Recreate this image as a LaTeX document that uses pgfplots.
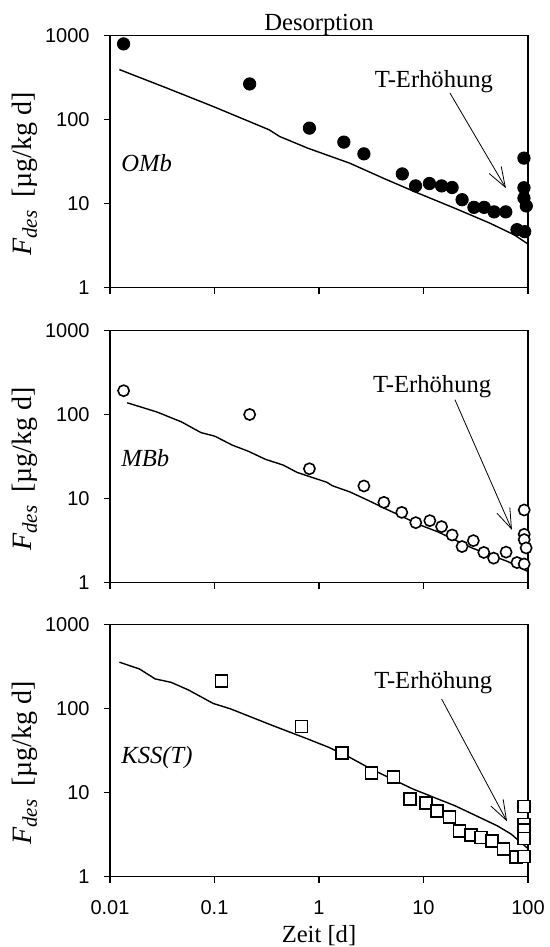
\documentclass[border=0pt]{standalone}
\usepackage{fontspec}
\setmainfont{Liberation Serif}
\newfontfamily\arialfont{Liberation Sans}
\usepackage{pgfplots}
\pgfplotsset{compat=1.18}
\usetikzlibrary{arrows.meta}

\newcommand\ylab{\textit{F}\raisebox{-0.4ex}{\fontsize{10.5}{10.5}\selectfont\textit{des}}\hspace{0.45em}[µg/kg d]}
\newcommand\tfont{\fontsize{12.3}{14}\selectfont}
\newcommand\lfont{\fontsize{14}{16}\selectfont}
\newcommand\afont{\arialfont\fontsize{10}{12}\selectfont}

\tikzset{arr/.style={-{Straight Barb[length=10pt,width=7pt]}, line width=0.4pt}}

\begin{document}
\begin{tikzpicture}
\useasboundingbox (0,0) rectangle (275pt,-473.5pt);

% ---------- Panel 1: OMb ----------
\begin{axis}[at={(55pt,-143.75pt)}, anchor=south west, clip=false,
    scale only axis, width=209pt, height=126pt,
    xmode=log, ymode=log, xmin=0.01, xmax=100, ymin=1, ymax=1000,
    xtick={0.01,0.1,1,10,100}, ytick={1,10,100,1000},
    yticklabels={1,10,100,1000}, xticklabels={},
    minor tick length=0pt,
    tick align=outside, xtick pos=bottom, ytick pos=left,
    major tick length=3.2pt,
    tick style={line width=0.8pt, black},
    axis line style={line width=0.9pt},
    tick label style={font=\afont},
    yticklabel style={xshift=-3.5pt},
    xticklabel style={yshift=-5.5pt}]
\addplot[black, line width=0.7pt, no marks] coordinates {
(0.0123,393) (0.0329,244) (0.097,143) (0.333,75.5) (0.42,62.8) (0.78,45.6)
(1.97,30.2) (4.28,19.6) (9.25,13.0) (20.0,8.77) (43.5,5.81) (74.5,4.21) (100,3.29)};
\addplot[only marks, mark=*, mark size=3.1pt, black] coordinates {
(0.0135,795) (0.217,265) (0.81,79) (1.73,53.8) (2.69,39) (6.27,22.5) (8.4,16.2)
(11.4,17.3) (14.9,16.2) (18.8,15.5) (23.4,11.1) (30.4,9.0) (38.1,9.0) (47.4,7.95)
(61.3,7.95) (78.5,4.88) (93,4.62) (91.5,34.7) (91.5,15.4) (91.5,11.6) (96.3,9.36)};
\node[font=\tfont, anchor=base, yshift=2.5pt] at (rel axis cs:0.5,1) {Desorption};
\node[font=\tfont] at (axis cs:12.6,285) {T-Erhöhung};
\draw[arr] (axis cs:17.9,207) -- (axis cs:61.5,15.2);
\node[font=\tfont\itshape, anchor=west, inner sep=1pt] at (axis cs:0.0122,30.2) {OMb};
\node[font=\lfont, rotate=90] at (axis description cs:-0.203,0.45) {\ylab};
\end{axis}

% ---------- Panel 2: MBb ----------
\begin{axis}[at={(55pt,-291.25pt)}, anchor=south west, clip=false,
    scale only axis, width=209pt, height=126pt,
    xmode=log, ymode=log, xmin=0.01, xmax=100, ymin=1, ymax=1000,
    xtick={0.01,0.1,1,10,100}, ytick={1,10,100,1000},
    yticklabels={1,10,100,1000}, xticklabels={},
    minor tick length=0pt,
    tick align=outside, xtick pos=bottom, ytick pos=left,
    major tick length=3.2pt,
    tick style={line width=0.8pt, black},
    axis line style={line width=0.9pt},
    tick label style={font=\afont},
    yticklabel style={xshift=-3.5pt},
    xticklabel style={yshift=-5.5pt}]
\addplot[black, line width=0.7pt, no marks] coordinates {
(0.0146,138) (0.0282,107) (0.0484,81.6) (0.074,61) (0.1007,55.2) (0.148,43.2)
(0.210,36.6) (0.309,29.2) (0.455,25.0) (0.62,20.4) (1.19,15.6) (1.34,14.2)
(1.97,12.0) (2.90,9.6) (4.28,7.6) (6.29,6.08) (9.25,4.84) (13.6,4.03) (20.0,3.21)
(29.5,2.56) (43.4,2.13) (63.9,1.78) (87.1,1.48) (100,1.35)};
\addplot[only marks, mark=*, mark size=2.8pt, mark options={fill=white, draw=black, line width=0.8pt}] coordinates {
(0.0135,192) (0.217,100) (0.81,22.6) (2.69,14.1) (4.18,9.0) (6.2,6.84) (8.44,5.16)
(11.5,5.45) (14.9,4.63) (18.8,3.68) (23.4,2.68) (30.0,3.15) (37.8,2.28) (46.9,1.95)
(61.7,2.30) (78.5,1.73) (92,1.66) (92,7.3) (92,3.75) (92,3.24) (96,2.58)};
\node[font=\tfont] at (axis cs:12.1,212) {T-Erhöhung};
\draw[arr] (axis cs:20.0,150) -- (axis cs:70.2,4.23);
\node[font=\tfont\itshape, anchor=west, inner sep=1pt] at (axis cs:0.0122,29.9) {MBb};
\node[font=\lfont, rotate=90] at (axis description cs:-0.203,0.45) {\ylab};
\end{axis}

% ---------- Panel 3: KSS(T) ----------
\begin{axis}[at={(55pt,-438.25pt)}, anchor=south west, clip=false,
    scale only axis, width=209pt, height=126pt,
    xmode=log, ymode=log, xmin=0.01, xmax=100, ymin=1, ymax=1000,
    xtick={0.01,0.1,1,10,100}, ytick={1,10,100,1000},
    yticklabels={1,10,100,1000}, xticklabels={0.01,0.1,1,10,100},
    minor tick length=0pt,
    tick align=outside, xtick pos=bottom, ytick pos=left,
    major tick length=3.2pt,
    tick style={line width=0.8pt, black},
    axis line style={line width=0.9pt},
    tick label style={font=\afont},
    yticklabel style={xshift=-3.5pt},
    xticklabel style={yshift=-5.5pt}]
\addplot[black, line width=0.7pt, no marks] coordinates {
(0.0123,356) (0.0191,296) (0.0271,225) (0.0384,205) (0.0565,166) (0.097,115)
(0.143,98.8) (0.227,78.7) (0.361,62.6) (0.531,52.1) (0.78,43.4) (1.24,34.5)
(1.97,26.2) (3.14,19.1) (4.99,14.5) (7.93,11.0) (12.6,8.74) (20.0,6.96)
(31.9,5.29) (50.7,4.02) (69.0,3.20) (100,2.15)};
\addplot[only marks, mark=square*, mark size=3pt, mark options={fill=white, draw=black, line width=0.8pt}] coordinates {
(0.117,211) (0.68,61.4) (1.65,29.5) (3.18,17.1) (5.17,15.4) (7.4,8.36) (10.5,7.5)
(13.5,6.06) (17.8,5.15) (22.2,3.47) (28.5,3.1) (35.7,2.92) (45.3,2.66) (58.3,2.14)
(77.3,1.72) (91,1.74) (91,6.78) (91,4.15) (91,3.57) (91,2.83)};
\node[font=\tfont] at (axis cs:12.4,206) {T-Erhöhung};
\draw[arr] (axis cs:14.9,130) -- (axis cs:63,4.53);
\node[font=\tfont\itshape, anchor=west, inner sep=1pt] at (axis cs:0.0122,26.2) {KSS(T)};
\node[font=\lfont, rotate=90] at (axis description cs:-0.203,0.45) {\ylab};
\node[font=\tfont, anchor=base, yshift=-32.75pt] at (rel axis cs:0.5,0) {Zeit [d]};
\end{axis}
\end{tikzpicture}
\end{document}
